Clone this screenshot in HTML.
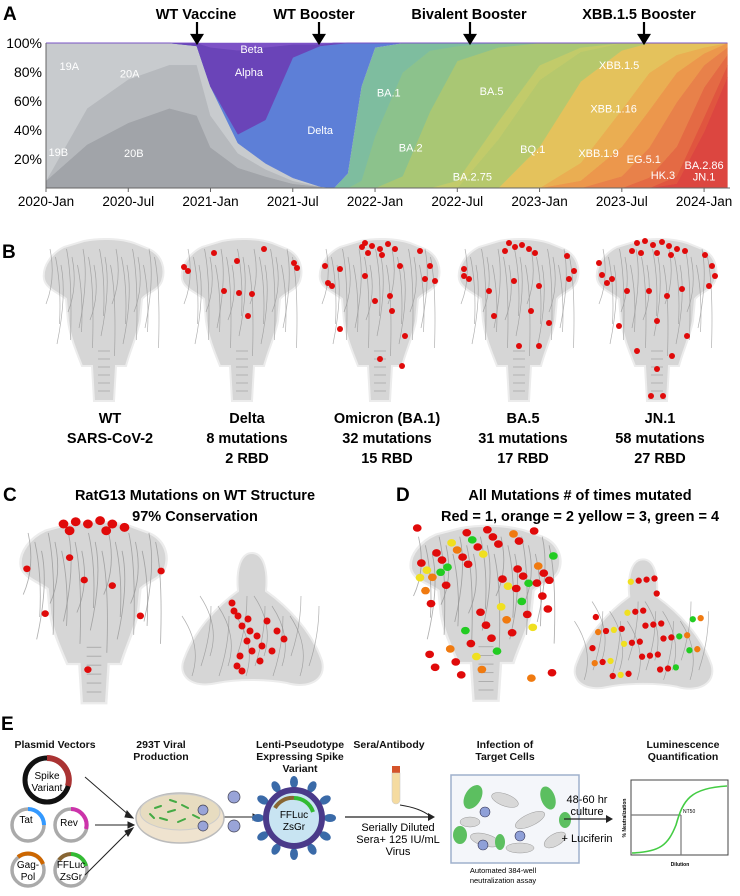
<!DOCTYPE html>
<html><head><meta charset="utf-8"><style>
html,body{margin:0;padding:0;background:#fff;}
svg{display:block;font-family:"Liberation Sans",Arial,sans-serif;}
.b{font-weight:bold;}
</style></head><body>
<svg id="fig" width="740" height="896" viewBox="0 0 740 896" xmlns="http://www.w3.org/2000/svg">
<defs>
<path id="spike" d="M -20,0 C -5,-3 15,-3 30,2 L 45,8 C 58,14 62,28 58,40 C 54,50 42,52 38,58 L 36,80 C 33,95 26,110 22,125 L 12,125 L 10,160 L -10,160 L -12,125 L -22,125 C -28,110 -34,95 -36,80 L -38,58 C -45,52 -58,48 -60,38 C -62,25 -52,12 -40,6 Z"/>
<path id="tri" d="M 0,-68 C 12,-68 16,-50 14,-30 C 35,-15 60,10 70,40 C 75,60 55,68 35,62 C 15,58 -15,58 -35,62 C -60,68 -75,55 -68,38 C -58,10 -35,-15 -14,-30 C -16,-50 -12,-68 0,-68 Z"/>
</defs>

<g id="panelA">
<text x="3" y="20" font-size="19" class="b">A</text>
<g id="areas"></g>
<g id="axes"></g>
<g id="vlabels" font-size="11" fill="#fff"></g>
<g font-size="14.5" class="b" text-anchor="middle">
 <text x="196" y="19">WT Vaccine</text>
 <text x="314" y="19">WT Booster</text>
 <text x="469" y="19">Bivalent Booster</text>
 <text x="639" y="19">XBB.1.5 Booster</text>
 <g stroke="#000" stroke-width="2.2" fill="#000">
  <line x1="197" y1="22" x2="197" y2="36"/><polygon points="192,35 202,35 197,43"/>
  <line x1="319" y1="22" x2="319" y2="36"/><polygon points="314,35 324,35 319,43"/>
  <line x1="470" y1="22" x2="470" y2="36"/><polygon points="465,35 475,35 470,43"/>
  <line x1="644" y1="22" x2="644" y2="36"/><polygon points="639,35 649,35 644,43"/>
 </g>
</g>
</g>

<g id="panelB">
<text x="2" y="258" font-size="19" class="b">B</text>
<g id="bspikes"></g>
<g font-size="14.5" class="b" text-anchor="middle">
 <text x="110" y="423">WT</text><text x="110" y="443">SARS-CoV-2</text>
 <text x="247" y="423">Delta</text><text x="247" y="443">8 mutations</text><text x="247" y="463">2 RBD</text>
 <text x="387" y="423">Omicron (BA.1)</text><text x="387" y="443">32 mutations</text><text x="387" y="463">15 RBD</text>
 <text x="523" y="423">BA.5</text><text x="523" y="443">31 mutations</text><text x="523" y="463">17 RBD</text>
 <text x="660" y="423">JN.1</text><text x="660" y="443">58 mutations</text><text x="660" y="463">27 RBD</text>
</g>
</g>

<g id="panelCD">
<text x="3" y="501" font-size="19" class="b">C</text>
<g font-size="14.5" class="b" text-anchor="middle">
<text x="195" y="500">RatG13 Mutations on WT Structure</text>
<text x="195" y="521">97% Conservation</text>
</g>
<text x="396" y="501" font-size="19" class="b">D</text>
<g font-size="14.5" class="b" text-anchor="middle">
<text x="580" y="500">All Mutations # of times mutated</text>
<text x="580" y="521">Red = 1, orange = 2 yellow = 3, green = 4</text>
</g>
<g id="cdshapes"></g>
</g>

<g id="panelE">
<text x="1" y="730" font-size="19" class="b">E</text>
<g font-size="10.5" class="b" text-anchor="middle" fill="#111">
 <text x="55" y="748">Plasmid Vectors</text>
 <text x="161" y="748">293T Viral</text><text x="161" y="760">Production</text>
 <text x="300" y="748">Lenti-Pseudotype</text><text x="300" y="760">Expressing Spike</text><text x="300" y="772">Variant</text>
 <text x="389" y="748">Sera/Antibody</text>
 <text x="505" y="748">Infection of</text><text x="505" y="760">Target Cells</text>
 <text x="683" y="748">Luminescence</text><text x="683" y="760">Quantification</text>
</g>
<g>
 <circle cx="47" cy="780" r="22" fill="none" stroke="#111" stroke-width="5"/>
 <path d="M 47,758 A 22,22 0 0 1 68,786" fill="none" stroke="#a33" stroke-width="6"/>
 <text x="47" y="779" font-size="10" text-anchor="middle">Spike</text><text x="47" y="791" font-size="10" text-anchor="middle">Variant</text>
</g>
<g>
 <circle cx="28" cy="825" r="16" fill="none" stroke="#aaa" stroke-width="3.5"/>
 <path d="M 28,809 A 16,16 0 0 1 44,825" fill="none" stroke="#39f" stroke-width="4"/>
 <text x="26" y="823" font-size="10" text-anchor="middle">Tat</text>
</g>
<g>
 <circle cx="71" cy="825" r="16" fill="none" stroke="#aaa" stroke-width="3.5"/>
 <path d="M 71,809 A 16,16 0 0 1 86,829" fill="none" stroke="#c3a" stroke-width="4"/>
 <text x="69" y="826" font-size="10" text-anchor="middle">Rev</text>
</g>
<g>
 <circle cx="28" cy="870" r="16" fill="none" stroke="#aaa" stroke-width="3.5"/>
 <path d="M 18,857 A 16,16 0 0 1 43,864" fill="none" stroke="#c60" stroke-width="4"/>
 <text x="28" y="868" font-size="10" text-anchor="middle">Gag-</text><text x="28" y="880" font-size="10" text-anchor="middle">Pol</text>
</g>
<g>
 <circle cx="71" cy="870" r="16" fill="none" stroke="#aaa" stroke-width="3.5"/>
 <path d="M 59,860 A 16,16 0 0 1 71,854" fill="none" stroke="#863" stroke-width="4"/>
 <path d="M 71,854 A 16,16 0 0 1 86,866" fill="none" stroke="#3b3" stroke-width="4"/>
 <text x="71" y="868" font-size="10" text-anchor="middle">FFLuc</text><text x="71" y="880" font-size="10" text-anchor="middle">ZsGr</text>
</g>
<g stroke="#222" stroke-width="1" fill="#222">
 <line x1="85" y1="777" x2="130" y2="816"/><line x1="95" y1="825" x2="130" y2="825"/><line x1="85" y1="875" x2="130" y2="830"/>
 <polygon points="133,818 127,811 125,817"/><polygon points="134,825 128,822 128,828"/><polygon points="133,828 125,831 128,836"/>
 <line x1="222" y1="817" x2="255" y2="817"/><polygon points="259,817 253,814 253,820"/>
</g>
<g>
 <ellipse cx="180" cy="818" rx="44" ry="25" fill="#efe3cf" stroke="#bbb" stroke-width="1.5"/>
 <ellipse cx="180" cy="812" rx="40" ry="18" fill="#e7dcc0" stroke="#ccc"/>
 <g stroke="#4a4" stroke-width="2" stroke-linecap="round">
  <line x1="155" y1="808" x2="161" y2="806"/><line x1="168" y1="812" x2="175" y2="810"/><line x1="182" y1="805" x2="188" y2="808"/><line x1="160" y1="818" x2="167" y2="820"/><line x1="178" y1="822" x2="185" y2="819"/><line x1="193" y1="815" x2="199" y2="818"/><line x1="170" y1="800" x2="176" y2="802"/><line x1="150" y1="814" x2="154" y2="818"/>
 </g>
 <g fill="#99a4d8" stroke="#445" stroke-width="0.7">
  <circle cx="203" cy="810" r="5"/><circle cx="203" cy="826" r="5"/><circle cx="234" cy="797" r="6"/><circle cx="234" cy="826" r="6"/>
 </g>
</g>
<g>
 <g fill="#3a6aa8" id="vspk"></g>
 <circle cx="294" cy="818" r="28" fill="#c8e4f2" stroke="#4a3a8a" stroke-width="6"/>
 <path d="M 275,808 A 20,20 0 0 1 294,798" fill="none" stroke="#863" stroke-width="4"/>
 <path d="M 294,798 A 20,20 0 0 1 313,812" fill="none" stroke="#3b3" stroke-width="4"/>
 <text x="294" y="818" font-size="10" text-anchor="middle">FFLuc</text><text x="294" y="830" font-size="10" text-anchor="middle">ZsGr</text>
</g>
<g>
 <rect x="392" y="766" width="8" height="7" fill="#d5542a"/>
 <path d="M 392,773 L 400,773 L 400,800 A 4,4 0 0 1 392,800 Z" fill="#f5dba0" stroke="#ccc" stroke-width="0.6"/>
 <path d="M 400,805 Q 420,808 430,816" fill="none" stroke="#222"/>
 <line x1="345" y1="817" x2="430" y2="817" stroke="#222" stroke-width="1.2"/><polygon points="435,817 428,813 428,821" fill="#222"/>
</g>
<g font-size="11" text-anchor="middle">
 <text x="398" y="831">Serially Diluted</text><text x="398" y="843">Sera+ 125 IU/mL</text><text x="398" y="855">Virus</text>
</g>
<g>
 <rect x="451" y="775" width="128" height="88" fill="#f4f6fa" stroke="#9fb0cc" stroke-width="1.5"/>
 <g fill="#d8d8d8" stroke="#999" stroke-width="0.5">
  <ellipse cx="505" cy="800" rx="14" ry="6" transform="rotate(20 505 800)"/><ellipse cx="530" cy="820" rx="16" ry="6" transform="rotate(-25 530 820)"/><ellipse cx="485" cy="840" rx="15" ry="6" transform="rotate(15 485 840)"/><ellipse cx="520" cy="848" rx="14" ry="5"/><ellipse cx="555" cy="840" rx="12" ry="6" transform="rotate(-30 555 840)"/><ellipse cx="470" cy="822" rx="10" ry="5"/>
 </g>
 <g fill="#5cbf60">
  <ellipse cx="473" cy="797" rx="8" ry="13" transform="rotate(30 473 797)"/><ellipse cx="548" cy="798" rx="7" ry="12" transform="rotate(-20 548 798)"/><ellipse cx="460" cy="835" rx="7" ry="9"/><ellipse cx="500" cy="842" rx="5" ry="8"/><ellipse cx="565" cy="820" rx="6" ry="8"/>
 </g>
 <g fill="#8fa0d8" stroke="#335" stroke-width="0.6"><circle cx="485" cy="812" r="5"/><circle cx="483" cy="845" r="5"/><circle cx="520" cy="836" r="5"/></g>
</g>
<g font-size="7.5" text-anchor="middle"><text x="503" y="873">Automated 384-well</text><text x="503" y="883">neutralization assay</text></g>
<g font-size="11" text-anchor="middle"><text x="587" y="803">48-60 hr</text><text x="587" y="815">culture</text><text x="587" y="842">+ Luciferin</text></g>
<line x1="564" y1="819" x2="608" y2="819" stroke="#222" stroke-width="1.2"/><polygon points="613,819 606,815 606,823" fill="#222"/>
<g>
 <rect x="631" y="780" width="97" height="75" fill="#fff" stroke="#444" stroke-width="1"/>
 <line x1="631" y1="815" x2="681" y2="815" stroke="#777" stroke-width="1.2"/>
 <line x1="681" y1="815" x2="681" y2="855" stroke="#777" stroke-width="1.2"/>
 <path d="M 632,853 C 660,852 668,845 676,825 C 683,800 690,788 727,786" fill="none" stroke="#4c4" stroke-width="1.6"/>
 <text x="683" y="813" font-size="5">NT50</text>
 <text x="626" y="818" font-size="5" class="b" text-anchor="middle" transform="rotate(-90 626 818)">% Neutralization</text>
 <text x="680" y="866" font-size="5" class="b" text-anchor="middle">Dilution</text>
</g>
</g>
</svg>
<script>
const months = [0,3,6,9,11,12,14,16,18,20,21,22,23,24,26,28,30,33,36,39,42,44,46,48,49.7];
const layerNames = ["JN.1","BA.2.86","HK.3","EG.5.1","XBB.1.9","XBB.1.16","XBB.1.5","BQ.1","BA.2.75","BA.5","BA.2","BA.1","20B","20A","19A","Delta","Alpha","Beta"];
const layerColors = ["#dc4640","#e0553f","#e46a44","#e8814a","#ec974c","#eaae52","#e4c25c","#b6c86c","#c2cb6a","#a9c774","#8cc28c","#7ebd9f","#a1a4a9","#b6b9bd","#c8cbce","#5d7fd7","#6a44b8","#7d52c6"];
const vJN1   = [0,0,0,0,0,0,0,0,0,0,0,0,0,0,0,0,0,0,0,0,0,0,3,38,75];
const vBA286 = [0,0,0,0,0,0,0,0,0,0,0,0,0,0,0,0,0,0,0,0,0,0,5,10,8];
const vHK3   = [0,0,0,0,0,0,0,0,0,0,0,0,0,0,0,0,0,0,0,0,0,7,20,20,7];
const vEG51  = [0,0,0,0,0,0,0,0,0,0,0,0,0,0,0,0,0,0,0,0,8,20,30,15,5];
const vXBB19 = [0,0,0,0,0,0,0,0,0,0,0,0,0,0,0,0,0,0,0,5,20,25,20,8,3];
const vXBB116= [0,0,0,0,0,0,0,0,0,0,0,0,0,0,0,0,0,0,0,12,25,25,12,4,0];
const vXBB15 = [0,0,0,0,0,0,0,0,0,0,0,0,0,0,0,0,0,0,28,55,40,20,8,3,0];
const vBQ1   = [0,0,0,0,0,0,0,0,0,0,0,0,0,0,0,0,0,33,45,20,5,0,0,0,0];
const vBA275 = [0,0,0,0,0,0,0,0,0,0,0,0,0,0,0,0,5,12,10,3,0,0,0,0,0];
const vBA5   = [0,0,0,0,0,0,0,0,0,0,0,0,0,0,8,50,80,50,15,3,0,0,0,0,0];
const vBA2   = [0,0,0,0,0,0,0,0,0,0,0,0,5,35,70,40,10,3,0,0,0,0,0,0,0];
const vBA1   = [0,0,0,0,0,0,0,0,0,0,0,10,65,60,20,5,2,0,0,0,0,0,0,0,0];
const v20B   = [5,30,45,55,50,28,14,8,3,1,0,0,0,0,0,0,0,0,0,0,0,0,0,0,0];
const v20A   = [0,25,30,30,35,22,10,5,2,0,0,0,0,0,0,0,0,0,0,0,0,0,0,0,0];
const v19A   = [95,45,25,15,13,20,7,4,2,0,0,0,0,0,0,0,0,0,0,0,0,0,0,0,0];
const vDelta = [0,0,0,0,0,0,6,30,83,97,99,90,30,3,0,0,0,0,0,0,0,0,0,0,0];
const vAlpha = [0,0,0,0,2,27,58,50,9,1,1,0,0,0,0,0,0,0,0,0,0,0,0,0,0];
const vBeta  = [0,0,0,0,0,3,5,3,1,1,0,0,0,0,0,0,0,0,0,0,0,0,0,0,0];
const layerValues = [vJN1,vBA286,vHK3,vEG51,vXBB19,vXBB116,vXBB15,vBQ1,vBA275,vBA5,vBA2,vBA1,v20B,v20A,v19A,vDelta,vAlpha,vBeta];
const yTicks = [20,40,60,80,100];
const xTickMonths = [0,6,12,18,24,30,36,42,48];
const xTickLabels = ["2020-Jan","2020-Jul","2021-Jan","2021-Jul","2022-Jan","2022-Jul","2023-Jan","2023-Jul","2024-Jan"];
const labelText = ["19A","20A","19B","20B","Beta","Alpha","Delta","BA.1","BA.2","BA.5","BA.2.75","BQ.1","XBB.1.5","XBB.1.16","XBB.1.9","EG.5.1","HK.3","BA.2.86","JN.1"];
const labelMonth = [1.7,6.1,0.9,6.4,15,14.8,20,25,26.6,32.5,31.1,35.5,41.8,41.4,40.3,43.6,45,48,48];
const labelPct = [84,79,25,24,96,80,40,66,28,67,8,27,85,55,24,20,9,16,8];

const NS="http://www.w3.org/2000/svg";
const X0=46, MW=13.71, Y0=188, YH=145;
function xs(m){return X0+m*MW;}
function ys(p){return Y0-p/100*YH;}
function mk(tag,attrs,parent){const e=document.createElementNS(NS,tag);for(const k in attrs)e.setAttribute(k,attrs[k]);parent.appendChild(e);return e;}
const areas=document.getElementById('areas');
const totals=months.map((_,i)=>layerValues.reduce((s,a)=>s+a[i],0));
let cum=months.map(()=>0);
layerValues.forEach((vals,li)=>{
  const lo=cum.slice();
  const hi=cum.map((c,i)=>c+vals[i]/totals[i]*100);
  let d="M"+months.map((m,i)=>xs(m).toFixed(1)+","+ys(hi[i]).toFixed(1)).join(" L");
  for(let i=months.length-1;i>=0;i--) d+=" L"+xs(months[i]).toFixed(1)+","+ys(lo[i]).toFixed(1);
  d+="Z";
  const p=mk('path',{d:d,fill:layerColors[li],stroke:layerColors[li],'stroke-width':0.5},areas);
  
  
  cum=hi;
});
const axes=document.getElementById('axes');
mk('line',{x1:X0,y1:Y0,x2:730,y2:Y0,stroke:'#666','stroke-width':1},axes);
mk('line',{x1:X0,y1:ys(100),x2:X0,y2:Y0,stroke:'#666','stroke-width':1},axes);
yTicks.forEach(t=>{
  const tx=mk('text',{x:X0-4,y:ys(t)+5,'font-size':14,'text-anchor':'end'},axes);
  tx.textContent=t+"%";
  
  
});
xTickMonths.forEach((m,i)=>{
  mk('line',{x1:xs(m),y1:Y0,x2:xs(m),y2:Y0+4,stroke:'#666'},axes);
  const tx=mk('text',{x:xs(m),y:206,'font-size':13.5,'text-anchor':'middle'},axes);
  tx.textContent=xTickLabels[i];
  
  
});
const vl=document.getElementById('vlabels');
labelText.forEach((t,i)=>{
  const tx=mk('text',{x:xs(labelMonth[i]),y:ys(labelPct[i])+4,'text-anchor':'middle'},vl);
  tx.textContent=t;
  
  
});

function spike(parent,cx,topY,sx,sy,dots){
  const g=mk('g',{transform:`translate(${cx},${topY}) scale(${sx},${sy})`},parent);
  
  
  mk('use',{href:'#spike',fill:'#d6d6d6',stroke:'#ececec','stroke-width':2},g);
  for(let k=0;k<20;k++){mk('path',{d:`M ${-54+k*5.5},${8+(k%3)*8} q 6,30 ${(k%2?4:-4)},${55+(k%4)*12}`,fill:'none',stroke:'#8f8f8f','stroke-width':0.7,opacity:0.7},g);}
  for(let k=0;k<6;k++){mk('path',{d:`M -6,${110+k*8} l 12,0`,fill:'none',stroke:'#999','stroke-width':0.6},g);}
  dots.forEach(d=>mk('circle',{cx:d[0],cy:d[1],r:d[2]||3,fill:d[3]||'#e00a0a'},g));
}
const B=document.getElementById('bspikes');
const dDelta=[[-58,26],[-54,30],[-28,12],[-5,20],[22,8],[52,22],[55,27],[-18,50],[6,75],[-3,52],[10,53]];
const dOmi=[[-15,2],[-8,5],[0,8],[8,3],[-12,12],[2,14],[15,8],[-18,6],[-55,25],[-52,42],[-48,45],[-40,28],[40,10],[50,25],[55,40],[45,38],[20,25],[-15,35],[10,55],[-40,88],[25,95],[0,118],[22,125],[-5,60],[12,70]];
const dBA5=[[-10,2],[-4,6],[3,4],[10,8],[-14,10],[16,12],[-55,28],[-50,38],[-55,35],[48,15],[55,30],[50,38],[-5,40],[20,45],[-25,75],[12,70],[30,82],[0,105],[20,105],[-30,50]];
const dJN1=[[-20,2],[-12,0],[-4,4],[5,1],[12,5],[20,8],[-16,12],[0,12],[14,14],[-25,10],[28,10],[-58,22],[-55,34],[-50,42],[-45,38],[55,25],[58,35],[52,45],[48,14],[-30,50],[-8,50],[10,55],[25,48],[-38,85],[0,80],[30,95],[0,128],[-6,155],[6,155],[-20,110],[15,115]];
[[104,[]],[242,dDelta],[380,dOmi],[519,dBA5],[657,dJN1]].forEach(s=>spike(B,s[0],241,1,1,s[1]));

const CD=document.getElementById('cdshapes');
const dC=[[-25,0,4],[-15,-2,4],[-5,0,4],[5,-3,4],[15,0,4],[25,3,4],[-20,6,4],[10,6,4],[-55,40,3],[55,42,3],[-20,30,3],[-8,50,3],[15,55,3],[-40,80,3],[38,82,3],[-5,130,3]];
spike(CD,94,524,1.22,1.12,dC);
const dD=[];
const dColors=['#e00a0a','#e00a0a','#e00a0a','#f07a10','#f0e020','#e00a0a','#2c2'];
for(let i=0;i<60;i++){const a=(i*37)%100/100, b=(i*61)%100/100; dD.push([-55+a*110, (i<30? b*55 : 40+b*100), 3.5, dColors[i%7]]);}
spike(CD,486,528,1.25,1.08,dD);
function drawTop(parent,cx,cy,s,dots){
  const g=mk('g',{transform:`translate(${cx},${cy}) scale(${s})`},parent);
  
  
  mk('use',{href:'#tri',fill:'#d6d6d6',stroke:'#ececec','stroke-width':2},g);
  for(let k=0;k<14;k++){mk('path',{d:`M ${-60+k*9},${55-(k%3)*10} q 10,-30 ${(k%2?10:-10)},-60`,fill:'none',stroke:'#8f8f8f','stroke-width':0.7,opacity:0.7},g);}
  dots.forEach(d=>mk('circle',{cx:d[0],cy:d[1],r:d[2]||3.5,fill:d[3]||'#e00a0a'},g));
}
const tC=[[-18,-10],[-14,-5],[-10,5],[-2,10],[5,15],[-5,20],[10,25],[0,30],[-12,35],[-15,45],[-10,50],[25,10],[32,18],[20,30],[-20,-18],[8,40],[-4,-2],[15,0]];
drawTop(CD,252,621,1.0,tC);
const tD=[];
for(let i=0;i<55;i++){const a=(i*29)%100/100, b=(i*53)%100/100; tD.push([-55+a*115,-55+b*115*0.95,3.2,dColors[i%7]]);}
drawTop(CD,643,626,0.98,tD.filter(d=>!(d[1]<-20 && Math.abs(d[0])>18)));

const vs=document.getElementById('vspk');
for(let i=0;i<12;i++){const a=i*Math.PI/6; const x=294+36*Math.cos(a), y=818+36*Math.sin(a);
  mk('ellipse',{cx:x,cy:y,rx:6,ry:4,transform:`rotate(${a*180/Math.PI} ${x} ${y})`},vs);}
</script>
</body></html>
